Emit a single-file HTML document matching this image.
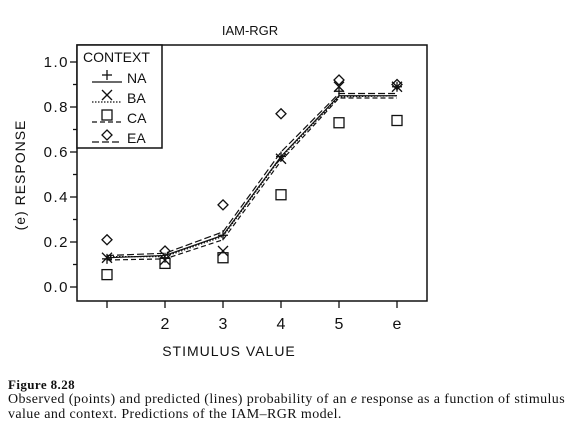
<!DOCTYPE html>
<html><head><meta charset="utf-8"><style>
body{margin:0;background:#fff;width:576px;height:437px;overflow:hidden}
svg{display:block}
.ax{font-family:"Liberation Sans","DejaVu Sans",sans-serif;fill:#111}
.cap{position:absolute;left:8px;font-family:"Liberation Serif",serif;font-size:14px;color:#111;line-height:15px;white-space:nowrap;letter-spacing:0.4px}
</style></head><body>
<svg id="chart" width="576" height="437"></svg>
<div class="cap" style="top:377px;font-weight:bold;font-size:13px">Figure 8.28</div>
<div class="cap" style="top:392px">Observed (points) and predicted (lines) probability of an <i>e</i> response as a function of stimulus<br>value and context. Predictions of the IAM–RGR model.</div>
<script>
const categories=["1","2","3","4","5","e"];
const tickLabels=["","2","3","4","5","e"];
const yTicks=[0,0.2,0.4,0.6,0.8,1.0];
const obsNA=[0.125,0.13,0.23,0.58,0.87,0.89];
const obsBA=[0.13,0.12,0.16,0.57,0.89,0.89];
const obsCA=[0.055,0.105,0.13,0.41,0.73,0.74];
const obsEA=[0.21,0.16,0.365,0.77,0.92,0.90];
const predNA=[0.13,0.14,0.23,0.58,0.85,0.85];
const predBA=[0.135,0.135,0.225,0.575,0.845,0.85];
const predCA=[0.12,0.125,0.21,0.56,0.84,0.84];
const predEA=[0.14,0.15,0.245,0.60,0.86,0.86];

const NS="http://www.w3.org/2000/svg";
const svg=document.getElementById('chart');
function mk(t,a,p){const e=document.createElementNS(NS,t);for(const k in a)e.setAttribute(k,a[k]);(p||svg).appendChild(e);return e;}
const X=i=>107+i*58, Y=v=>287-v*225;
const L=77,R=427,T=45,B=301;
let e;
e=mk('rect',{x:L,y:T,width:R-L,height:B-T,fill:'none',stroke:'#111','stroke-width':1.5});


e=mk('text',{x:250,y:35,'text-anchor':'middle','font-size':13,class:'ax'});e.textContent='IAM-RGR';


for(let k=0;k<=10;k++){const y=Y(k/10);mk('line',{x1:L-(k%2?4:7),x2:L,y1:y,y2:y,stroke:'#111','stroke-width':1.3});}
yTicks.forEach(v=>{e=mk('text',{x:L-8,y:Y(v)+5,'text-anchor':'end','font-size':15,class:'ax','letter-spacing':'1.5'});e.textContent=v.toFixed(1);

});
e=mk('text',{x:0,y:0,transform:'translate(25,175) rotate(-90)','text-anchor':'middle','font-size':14,class:'ax','letter-spacing':'1'});e.textContent='(e) RESPONSE';


categories.forEach((c,i)=>{mk('line',{x1:X(i),x2:X(i),y1:B,y2:B+7,stroke:'#111','stroke-width':1.3});
e=mk('text',{x:X(i),y:329,'text-anchor':'middle','font-size':16,class:'ax'});e.textContent=tickLabels[i];

});
e=mk('text',{x:229,y:356,'text-anchor':'middle','font-size':14,class:'ax','letter-spacing':'1'});e.textContent='STIMULUS VALUE';


const styles={NA:'',BA:'1.5,1.5',CA:'5,3',EA:'7,3'};
function line(vals,name,dash){const pts=vals.map((v,i)=>X(i)+','+Y(v)).join(' ');
e=mk('polyline',{points:pts,fill:'none',stroke:'#111','stroke-width':1.2,'stroke-dasharray':dash});

}
line(predNA,'na',styles.NA);line(predBA,'ba',styles.BA);line(predCA,'ca',styles.CA);line(predEA,'ea',styles.EA);
function marker(type,x,y,name){const g=mk('g',{stroke:'#111','stroke-width':1.3,fill:'none'});


if(type==='plus'){mk('line',{x1:x-5,x2:x+5,y1:y,y2:y},g);mk('line',{x1:x,x2:x,y1:y-5,y2:y+5},g);}
if(type==='x'){mk('line',{x1:x-5,x2:x+5,y1:y-5,y2:y+5},g);mk('line',{x1:x-5,x2:x+5,y1:y+5,y2:y-5},g);}
if(type==='sq'){mk('rect',{x:x-5,y:y-5,width:10,height:10},g);}
if(type==='di'){mk('polygon',{points:`${x},${y-5} ${x+5},${y} ${x},${y+5} ${x-5},${y}`},g);}}
obsNA.forEach((v,i)=>marker('plus',X(i),Y(v),'point-na'));
obsBA.forEach((v,i)=>marker('x',X(i),Y(v),'point-ba'));
obsCA.forEach((v,i)=>marker('sq',X(i),Y(v),'point-ca'));
obsEA.forEach((v,i)=>marker('di',X(i),Y(v),'point-ea'));
const lg=mk('g',{});


mk('rect',{x:L,y:T,width:85,height:103,fill:'#fff',stroke:'#111','stroke-width':1.5},lg);
e=mk('text',{x:83,y:62,'font-size':14,class:'ax'},lg);e.textContent='CONTEXT';
[['NA','plus'],['BA','x'],['CA','sq'],['EA','di']].forEach((d,k)=>{const y=82+k*20;
mk('line',{x1:92,x2:122,y1:y,y2:y,stroke:'#111','stroke-width':1.2,'stroke-dasharray':styles[d[0]]},lg);
marker(d[1],107,y-7,'legend-marker-'+d[0].toLowerCase());
e=mk('text',{x:127,y:y+1,'font-size':14,class:'ax'},lg);e.textContent=d[0];

});
</script>
</body></html>
